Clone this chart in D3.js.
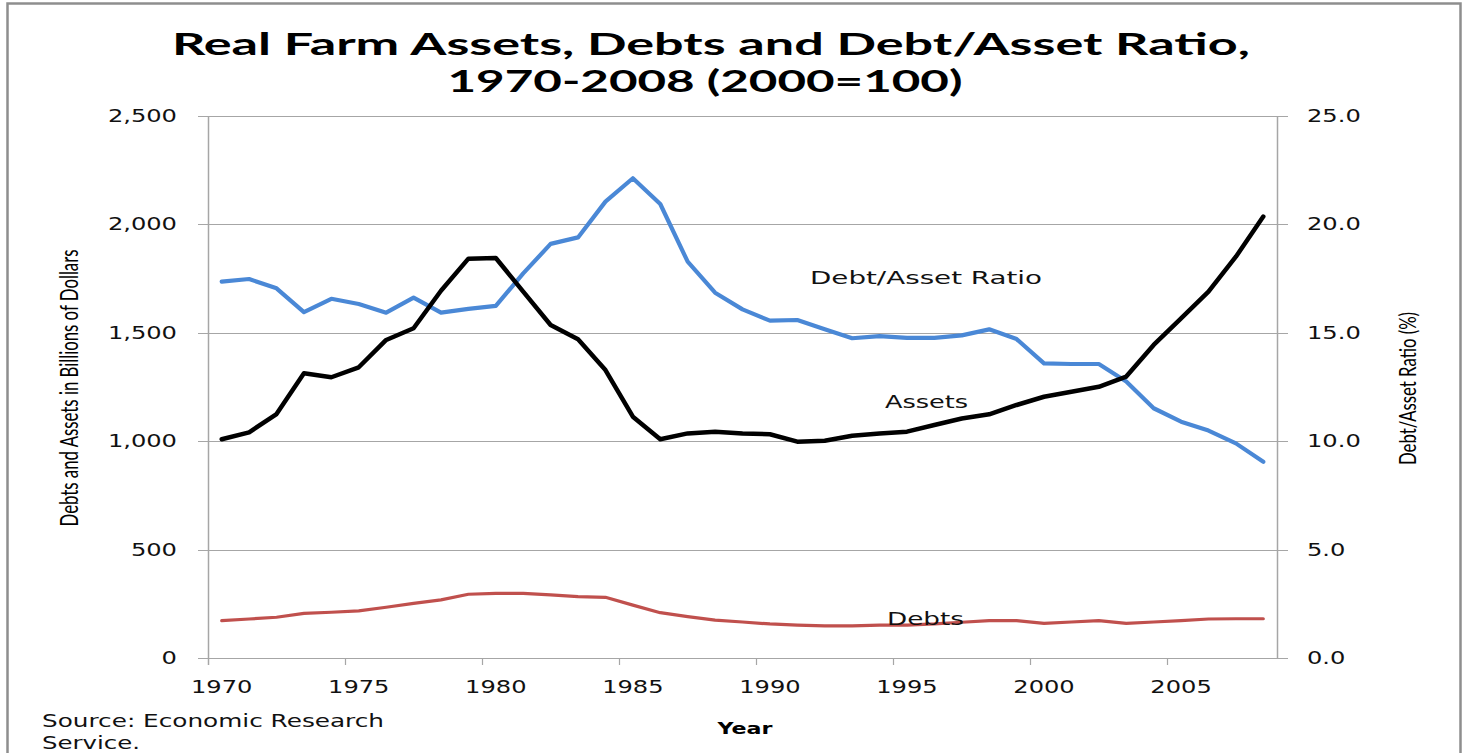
<!DOCTYPE html>
<html>
<head>
<meta charset="utf-8">
<script src="https://cdn.jsdelivr.net/npm/d3@7"></script>
<style>
  html, body { margin: 0; padding: 0; background: #fff; }
  svg { display: block; }
</style>
</head>
<body>
<svg id="chart" width="1468" height="753"></svg>
<script>
// ---------------- data ----------------
const years = d3.range(1970, 2009);
const assets = [1009, 1041, 1125, 1313, 1295, 1341, 1467, 1521, 1694, 1842,
                1845, 1690, 1536, 1470, 1328, 1113, 1009, 1036, 1044, 1036,
                1032, 998, 1002, 1025, 1036, 1044, 1075, 1105, 1124, 1167,
                1205, 1228, 1251, 1298, 1444, 1567, 1690, 1851, 2036];
const debts = [172, 180, 188, 206, 211, 217, 234, 252, 268, 294,
               298, 298, 291, 283, 280, 244, 209, 191, 175, 166,
               157, 152, 148, 148, 152, 152, 157, 165, 172, 172,
               160, 166, 172, 160, 166, 172, 180, 181, 181];
const ratio = [17.36, 17.48, 17.05, 15.95, 16.57, 16.33, 15.93, 16.62, 15.93, 16.10,
               16.24, 17.74, 19.10, 19.40, 21.05, 22.13, 20.94, 18.28, 16.85, 16.08,
               15.56, 15.59, 15.16, 14.75, 14.85, 14.77, 14.77, 14.88, 15.16, 14.71,
               13.59, 13.56, 13.56, 12.75, 11.52, 10.90, 10.49, 9.90, 9.05];
const leftTicks = [0, 500, 1000, 1500, 2000, 2500];
const rightTicks = [0, 5, 10, 15, 20, 25];
const xTickYears = [1970, 1975, 1980, 1985, 1990, 1995, 2000, 2005];
const titleLines = ["Real Farm Assets, Debts and Debt/Asset Ratio,", "1970-2008 (2000=100)"];

// ---------------- layout ----------------
const svg = d3.select("#chart");
const L = 208, R = 1277, T = 116, B = 658;
const x = d3.scaleLinear().domain([1970, 2009]).range([L, R]);
const yL = d3.scaleLinear().domain([0, 2500]).range([B, T]);
const yR = d3.scaleLinear().domain([0, 25]).range([B, T]);
const GRID = "#a6a6a6";
const STRETCH = 1.42;

function stretch(sel, factor) {
  sel.each(function () {
    const w = this.getComputedTextLength();
    this.setAttribute("textLength", (w * factor).toFixed(1));
    this.setAttribute("lengthAdjust", "spacingAndGlyphs");
  });
}
function fitTo(sel, width) {
  sel.attr("textLength", width).attr("lengthAdjust", "spacingAndGlyphs");
}

svg.append("rect").attr("width", 1468).attr("height", 753).attr("fill", "#fff");
// frame
svg.append("rect").attr("x", 7.5).attr("y", 3.5).attr("width", 1453).attr("height", 800)
  .attr("fill", "none").attr("stroke", "#8e8e8e").attr("stroke-width", 2.5);

// gridlines (left axis values) extending past both axes as ticks
const grid = svg.append("g");
grid.selectAll("line").data(leftTicks).join("line")
  .attr("x1", L - 10).attr("x2", R + 11)
  .attr("y1", d => Math.round(yL(d)) + 0.5).attr("y2", d => Math.round(yL(d)) + 0.5)
  .attr("stroke", GRID).attr("stroke-width", 1.2);

// axes lines
svg.append("line").attr("x1", L + 0.5).attr("x2", L + 0.5).attr("y1", T).attr("y2", B + 7)
  .attr("stroke", GRID).attr("stroke-width", 1.5);
svg.append("line").attr("x1", R + 0.5).attr("x2", R + 0.5).attr("y1", T).attr("y2", B)
  .attr("stroke", GRID).attr("stroke-width", 1.5);

// x ticks
svg.append("g").selectAll("line").data(xTickYears.slice(1)).join("line")
  .attr("x1", d => Math.round(x(d)) + 0.5).attr("x2", d => Math.round(x(d)) + 0.5)
  .attr("y1", B).attr("y2", B + 7)
  .attr("stroke", GRID).attr("stroke-width", 1.2);

// tick labels
const tickFont = "'DejaVu Sans', Verdana, sans-serif";
const lt = svg.append("g").selectAll("text").data(leftTicks).join("text")
  .attr("x", 177).attr("y", d => yL(d) + 6)
  .attr("text-anchor", "end").attr("font-family", tickFont).attr("font-size", 17)
  .attr("fill", "#111")
  .text(d => d3.format(",")(d));
stretch(lt, STRETCH);

const rt = svg.append("g").selectAll("text").data(rightTicks).join("text")
  .attr("x", 1307).attr("y", d => yR(d) + 6)
  .attr("text-anchor", "start").attr("font-family", tickFont).attr("font-size", 17)
  .attr("fill", "#111")
  .text(d => d3.format(".1f")(d));
stretch(rt, STRETCH);

const xt = svg.append("g").selectAll("text").data(xTickYears).join("text")
  .attr("x", d => x(d + 0.5)).attr("y", 693)
  .attr("text-anchor", "middle").attr("font-family", tickFont).attr("font-size", 17)
  .attr("fill", "#111")
  .text(d => d);
stretch(xt, STRETCH);

// series lines
const lineL = d3.line().x((d, i) => x(years[i] + 0.5)).y(d => yL(d));
const lineR = d3.line().x((d, i) => x(years[i] + 0.5)).y(d => yR(d));

svg.append("path").datum(debts).attr("d", lineL)
  .attr("fill", "none").attr("stroke", "#C0504D").attr("stroke-width", 3.2)
  .attr("stroke-linejoin", "round").attr("stroke-linecap", "round");
svg.append("path").datum(ratio).attr("d", lineR)
  .attr("fill", "none").attr("stroke", "#4A88D6").attr("stroke-width", 4.2)
  .attr("stroke-linejoin", "round").attr("stroke-linecap", "round");
svg.append("path").datum(assets).attr("d", lineL)
  .attr("fill", "none").attr("stroke", "#000").attr("stroke-width", 4.5)
  .attr("stroke-linejoin", "round").attr("stroke-linecap", "round");

// series labels
const labFont = "'DejaVu Sans', Verdana, sans-serif";
const l1 = svg.append("text").attr("x", 810).attr("y", 284).attr("font-family", labFont)
  .attr("font-size", 18).attr("fill", "#111").text("Debt/Asset Ratio");
fitTo(l1, 232);
const l2 = svg.append("text").attr("x", 885).attr("y", 408).attr("font-family", labFont)
  .attr("font-size", 18).attr("fill", "#111").text("Assets");
fitTo(l2, 83);
const l3 = svg.append("text").attr("x", 887).attr("y", 625).attr("font-family", labFont)
  .attr("font-size", 18).attr("fill", "#111").text("Debts");
fitTo(l3, 77);

// title
const titleFont = "Lato, 'Open Sans', sans-serif";
const t1 = svg.append("text").attr("x", 711).attr("y", 55).attr("text-anchor", "middle")
  .attr("font-family", titleFont).attr("font-weight", 700).attr("font-size", 31)
  .attr("fill", "#000").text(titleLines[0]);
fitTo(t1, 1078);
const t2 = svg.append("text").attr("x", 705).attr("y", 92).attr("text-anchor", "middle")
  .attr("font-family", titleFont).attr("font-weight", 700).attr("font-size", 31)
  .attr("fill", "#000").text(titleLines[1]);
fitTo(t2, 515);

// axis titles
const at1 = svg.append("text")
  .attr("transform", "translate(78,388) rotate(-90)")
  .attr("text-anchor", "middle").attr("font-family", "Lato, sans-serif")
  .attr("font-size", 25).attr("fill", "#000")
  .text("Debts and Assets in Billions of  Dollars");
fitTo(at1, 277);
const at2 = svg.append("text")
  .attr("transform", "translate(1416,388.5) rotate(-90)")
  .attr("text-anchor", "middle").attr("font-family", "Lato, sans-serif")
  .attr("font-size", 24).attr("fill", "#000")
  .text("Debt/Asset Ratio (%)");
fitTo(at2, 153);

const yr = svg.append("text").attr("x", 745).attr("y", 734).attr("text-anchor", "middle")
  .attr("font-family", "'DejaVu Sans', sans-serif").attr("font-weight", 700)
  .attr("font-size", 16).attr("fill", "#000").text("Year");
fitTo(yr, 55);

// source
const s1 = svg.append("text").attr("x", 42).attr("y", 727)
  .attr("font-family", labFont).attr("font-size", 17).attr("fill", "#111")
  .text("Source: Economic Research");
fitTo(s1, 342);
const s2 = svg.append("text").attr("x", 42).attr("y", 749)
  .attr("font-family", labFont).attr("font-size", 17).attr("fill", "#111")
  .text("Service.");
fitTo(s2, 98);
</script>
</body>
</html>
